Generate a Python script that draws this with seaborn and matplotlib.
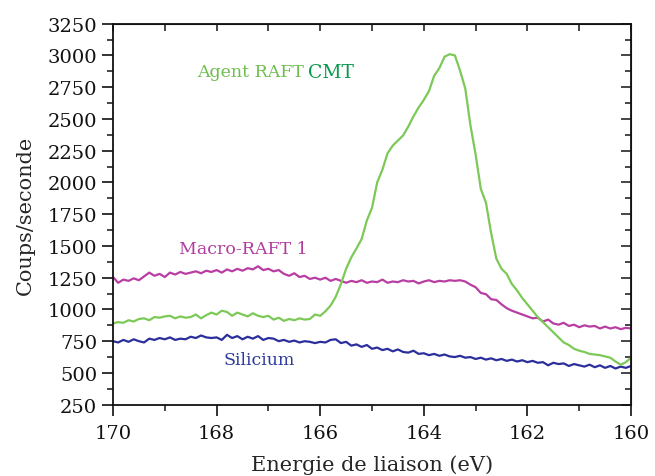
import numpy as np
import pandas as pd
import matplotlib
matplotlib.use("Agg")
import matplotlib.pyplot as plt
import seaborn as sns
from matplotlib.ticker import MultipleLocator

# binding energy grid, 170 -> 160 eV in 0.1 eV steps
energie = np.round(np.linspace(170, 160, 101), 1)

silicium = [750, 740, 760, 745, 765, 750, 740, 770, 760, 775,
            765, 780, 760, 770, 765, 785, 775, 795, 780, 775,
            780, 760, 800, 775, 790, 765, 785, 770, 790, 760,
            775, 770, 750, 760, 745, 755, 740, 750, 745, 735,
            745, 740, 760, 765, 735, 745, 715, 725, 705, 720,
            690, 700, 680, 690, 670, 685, 665, 660, 675, 650,
            655, 640, 650, 635, 645, 630, 625, 635, 620, 625,
            610, 620, 605, 615, 600, 610, 595, 605, 590, 600,
            585, 595, 580, 585, 560, 580, 570, 575, 555, 570,
            560, 550, 565, 545, 560, 540, 555, 535, 550, 540,
            555]

macro_raft = [1255, 1210, 1235, 1225, 1245, 1230, 1260, 1290, 1265, 1280,
              1255, 1290, 1275, 1295, 1280, 1290, 1300, 1285, 1305, 1295,
              1310, 1290, 1315, 1300, 1320, 1305, 1325, 1315, 1340, 1310,
              1320, 1300, 1310, 1280, 1265, 1285, 1255, 1265, 1240, 1250,
              1235, 1250, 1225, 1240, 1225, 1210, 1225, 1215, 1230, 1210,
              1220, 1215, 1235, 1210, 1220, 1215, 1230, 1220, 1225, 1205,
              1220, 1230, 1215, 1225, 1220, 1230, 1225, 1230, 1220, 1195,
              1175, 1130, 1120, 1080, 1075, 1040, 1010, 990, 975, 960,
              945, 930, 935, 905, 920, 890, 880, 895, 870, 880,
              860, 875, 865, 870, 850, 865, 850, 860, 845, 855,
              850]

agent_raft = [890, 900, 895, 915, 905, 925, 930, 915, 940, 935,
              945, 950, 930, 945, 935, 940, 960, 930, 955, 975,
              960, 990, 980, 950, 975, 960, 945, 970, 950, 940,
              950, 920, 935, 910, 925, 915, 930, 920, 925, 960,
              950, 985, 1030, 1100, 1200, 1320, 1410, 1480, 1555, 1700,
              1800, 2000, 2100, 2230, 2290, 2330, 2370, 2440, 2520, 2590,
              2650, 2720, 2840, 2900, 2990, 3010, 3000, 2880, 2740, 2450,
              2220, 1950, 1840, 1600, 1400, 1320, 1280, 1200, 1150, 1090,
              1040, 990, 940, 900, 860, 820, 780, 740, 720, 690,
              675, 665, 650, 645, 640, 630, 620, 590, 565, 585,
              620]

df = pd.DataFrame({"E": energie, "Si": silicium, "Macro": macro_raft, "Agent": agent_raft})

sns.set_style("ticks")
plt.rcParams["font.family"] = ["DejaVu Serif"]

fig = plt.figure(figsize=(6.55, 4.77), dpi=100)
ax = fig.add_axes([0.1725, 0.1495, 0.7909, 0.7987])

sns.lineplot(data=df, x="E", y="Si", color="#2b2f9c", lw=1.6, ax=ax)
sns.lineplot(data=df, x="E", y="Macro", color="#b83ea3", lw=1.6, ax=ax)
sns.lineplot(data=df, x="E", y="Agent", color="#7cc957", lw=1.6, ax=ax)

ax.set_xlim(170, 160)
ax.set_ylim(250, 3250)
ax.xaxis.set_major_locator(MultipleLocator(2))
ax.xaxis.set_minor_locator(MultipleLocator(1))
ax.yaxis.set_major_locator(MultipleLocator(250))
ax.yaxis.set_minor_locator(MultipleLocator(125))
ax.tick_params(which="major", direction="out", length=8, width=1.2, labelsize=14, colors="#111111")
ax.tick_params(which="minor", direction="out", length=4.5, width=1.2)
ax.tick_params(axis="x", pad=6)
for s in ax.spines.values():
    s.set_linewidth(1.3)
    s.set_color("#111111")

# mirrored inward ticks on top and right
top = ax.secondary_xaxis("top")
top.xaxis.set_major_locator(MultipleLocator(1))
top.tick_params(direction="in", length=5, width=1.2, labeltop=False)
right = ax.secondary_yaxis("right")
right.yaxis.set_major_locator(MultipleLocator(250))
right.yaxis.set_minor_locator(MultipleLocator(125))
right.tick_params(which="major", direction="in", length=7, width=1.2, labelright=False)
right.tick_params(which="minor", direction="in", length=4, width=1.2)

ax.set_xlabel("Energie de liaison (eV)", fontsize=15, labelpad=9)
ax.set_ylabel("Coups/seconde", fontsize=15, labelpad=9)

ax.text(168.38, 2870, "Agent RAFT", color="#6fbf4f", fontsize=12.5, va="center")
ax.text(166.24, 2870, "CMT", color="#069a4c", fontsize=13.5, va="center")
ax.text(168.72, 1476, "Macro-RAFT 1", color="#b03d9e", fontsize=12.5, va="center")
ax.text(167.86, 602, "Silicium", color="#2d3a9c", fontsize=12.5, va="center")

fig.savefig("out.png", dpi=100)
